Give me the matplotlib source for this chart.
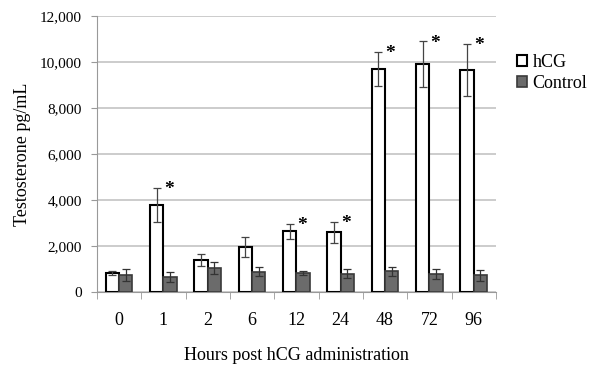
import numpy as np
import matplotlib
matplotlib.use("Agg")
import matplotlib.pyplot as plt
from matplotlib.ticker import FuncFormatter

plt.rcParams['font.family'] = ['Liberation Serif', 'DejaVu Serif']

hours = ['0', '1', '2', '6', '12', '24', '48', '72', '96']
hcg = [840, 3800, 1400, 1950, 2640, 2610, 9700, 9910, 9670]
hcg_err = [90, 740, 270, 430, 330, 460, 750, 1000, 1130]
control = [740, 640, 1060, 880, 840, 810, 910, 770, 725]
control_err = [250, 220, 260, 200, 100, 200, 190, 220, 220]
signif = [False, True, False, False, True, True, True, True, True]

fig = plt.figure(figsize=(5.91, 3.67), dpi=100)
ax = fig.add_axes([0.164, 0.204, 0.675, 0.752])

x = np.arange(len(hours))
w = 0.3
ax.bar(x - w/2, hcg, w, color='white', edgecolor='black', linewidth=1.5, zorder=3, label='hCG')
ax.bar(x + w/2, control, w, color='#6b6b6b', edgecolor='#3a3a3a', linewidth=1.2, zorder=3, label='Control')
ax.errorbar(x - w/2, hcg, yerr=hcg_err, fmt='none', ecolor='#444444', elinewidth=0.9, capsize=3, capthick=0.9, zorder=4)
ax.errorbar(x + w/2, control, yerr=control_err, fmt='none', ecolor='#333333', elinewidth=0.9, capsize=3, capthick=0.9, zorder=4)

for i in range(len(hours)):
    if signif[i]:
        ax.text(x[i] + 0.12, hcg[i] + hcg_err[i] - 80, '*', ha='center', va='center', fontsize=14, fontweight='bold', zorder=5)

ax.set_xlim(-0.5, len(hours) - 0.5)
ax.set_ylim(0, 12000)
ax.set_yticks(np.arange(0, 12001, 2000))
ax.yaxis.set_major_formatter(FuncFormatter(lambda v, p: f'{int(v):,}'))
ax.set_xticks(x)
ax.set_xticklabels(hours)
ax.set_xticks(np.arange(-0.5, len(hours)), minor=True)
ax.tick_params(axis='x', which='major', length=0, pad=14, labelsize=13)
ax.tick_params(axis='x', which='minor', length=5, color='#999999', direction='out')
ax.tick_params(axis='y', length=4, color='#999999', labelsize=11, pad=7)
ax.grid(axis='y', color='#c4c4c4', linewidth=1.2, zorder=0)
for s in ['top', 'right']:
    ax.spines[s].set_visible(False)
ax.spines['left'].set_color('#999999')
ax.spines['bottom'].set_color('#999999')

ax.set_xlabel('Hours post hCG administration', fontsize=13, labelpad=13)
ax.set_ylabel('Testosterone pg/mL', fontsize=13, labelpad=6)

ax.legend(loc='upper left', bbox_to_anchor=(1.035, 0.89), frameon=False, fontsize=13,
          handlelength=0.55, handleheight=0.55, handletextpad=0.3, labelspacing=0.25, borderaxespad=0)

fig.savefig('out.png', dpi=100)
